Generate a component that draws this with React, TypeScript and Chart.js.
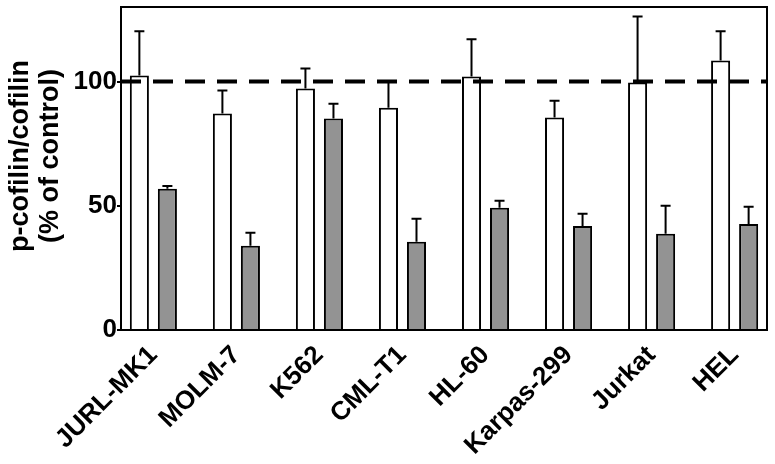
import React, { useEffect, useRef } from "react";
import { Chart, registerables } from "chart.js";

Chart.register(...registerables);

const categories = ["JURL-MK1", "MOLM-7", "K562", "CML-T1", "HL-60", "Karpas-299", "Jurkat", "HEL"];
const controlValues = [102.4, 87.1, 97.2, 89.5, 102, 85.5, 99.6, 108.5];
const controlErrors = [17.8, 9.3, 8, 10.5, 15, 6.8, 26.6, 11.7];
const treatedValues = [56.9, 33.9, 85.1, 35.5, 49.2, 41.9, 38.7, 42.7];
const treatedErrors = [1.1, 5.2, 6, 9.3, 2.8, 4.9, 11.3, 6.9];
const yTicks = [0, 50, 100];
const referenceLine = 100;
const yTitleLines = ["p-cofilin/cofilin", "(% of control)"];

const FONT = "'Liberation Sans', Arial, Helvetica, sans-serif";

export default function App() {
  const ref = useRef<HTMLCanvasElement | null>(null);

  useEffect(() => {
    const canvas = ref.current;
    if (!canvas) return;

    const errorPlugin = {
      id: "errorBars",
      afterDatasetsDraw(chart: any) {
        const ctx = chart.ctx;
        const yScale = chart.scales.y;
        const errs = [controlErrors, treatedErrors];
        const vals = [controlValues, treatedValues];
        ctx.save();
        ctx.strokeStyle = "#000";
        ctx.lineWidth = 2;
        chart.data.datasets.forEach((_: any, di: number) => {
          const meta = chart.getDatasetMeta(di);
          meta.data.forEach((bar: any, i: number) => {
            const top = yScale.getPixelForValue(vals[di][i]);
            const tip = yScale.getPixelForValue(vals[di][i] + errs[di][i]);
            ctx.beginPath();
            ctx.moveTo(bar.x, top);
            ctx.lineTo(bar.x, tip);
            ctx.moveTo(bar.x - 5, tip);
            ctx.lineTo(bar.x + 5, tip);
            ctx.stroke();
          });
        });
        const ca = chart.chartArea;
        const yl = yScale.getPixelForValue(referenceLine);
        ctx.beginPath();
        ctx.setLineDash([20, 12]);
        ctx.lineWidth = 4;
        ctx.moveTo(ca.left, yl);
        ctx.lineTo(ca.right, yl);
        ctx.stroke();
        ctx.setLineDash([]);
        ctx.restore();
      },
      afterDraw(chart: any) {
        const ctx = chart.ctx;
        const ca = chart.chartArea;
        ctx.save();
        ctx.strokeStyle = "#000";
        ctx.lineWidth = 2;
        ctx.strokeRect(ca.left, ca.top, ca.right - ca.left, ca.bottom - ca.top);
        ctx.fillStyle = "#000";
        ctx.font = `bold 27px ${FONT}`;
        ctx.textAlign = "center";
        ctx.textBaseline = "middle";
        const cy = 156;
        const xs = [21, 51];
        yTitleLines.forEach((t, i) => {
          ctx.save();
          ctx.translate(xs[i], cy);
          ctx.rotate(-Math.PI / 2);
          ctx.fillText(t, 0, 0);
          ctx.restore();
        });
        ctx.restore();
      },
    };

    const chart = new Chart(canvas, {
      type: "bar",
      data: {
        datasets: [
          {
            label: "control",
            data: controlValues.map((v, i) => ({ x: i, y: v })),
            backgroundColor: "#ffffff",
            borderColor: "#000000",
            borderWidth: 2,
            borderSkipped: "bottom",
          },
          {
            label: "treated",
            data: treatedValues.map((v, i) => ({ x: i, y: v })),
            backgroundColor: "#939393",
            borderColor: "#000000",
            borderWidth: 2,
            borderSkipped: "bottom",
          },
        ],
      },
      options: {
        responsive: false,
        animation: false,
        layout: { padding: { top: 7, right: 8, left: 0, bottom: 0 } },
        datasets: { bar: { categoryPercentage: 0.675, barPercentage: 0.68 } },
        plugins: { legend: { display: false }, tooltip: { enabled: false } },
        scales: {
          x: {
            type: "linear",
            min: -0.39,
            max: 7.39,
            offset: false,
            grid: { display: false },
            border: { display: true, color: "#000", width: 2 },
            afterBuildTicks: (scale: any) => {
              scale.ticks = categories.map((_, i) => ({ value: i }));
            },
            afterFit: (scale: any) => {
              scale.height = 134;
              scale.paddingLeft = 0;
              scale.paddingRight = 0;
            },
            ticks: {
              autoSkip: false,
              minRotation: 45,
              maxRotation: 45,
              padding: 2,
              color: "#000",
              font: { family: FONT, size: 26, weight: "bold" },
              callback: (v: any) => categories[Math.round(Number(v))] ?? "",
            },
          },
          y: {
            min: 0,
            max: 130,
            grid: { display: true, drawOnChartArea: false, tickLength: 4, color: "#000", lineWidth: 2 },
            border: { display: true, color: "#000", width: 2 },
            afterBuildTicks: (scale: any) => {
              scale.ticks = yTicks.map((v) => ({ value: v }));
            },
            afterFit: (scale: any) => {
              scale.width = 121;
              scale.paddingTop = 0;
              scale.paddingBottom = 0;
            },
            ticks: {
              padding: 0,
              color: "#000",
              font: { family: FONT, size: 26, weight: "bold" },
            },
          },
        },
      },
      plugins: [errorPlugin],
    } as any);

    return () => chart.destroy();
  }, []);

  return (
    <div style={{ position: "absolute", left: 0, top: 0, width: 775, height: 464, background: "#fff" }}>
      <canvas ref={ref} width={775} height={464} style={{ display: "block" }} />
    </div>
  );
}
